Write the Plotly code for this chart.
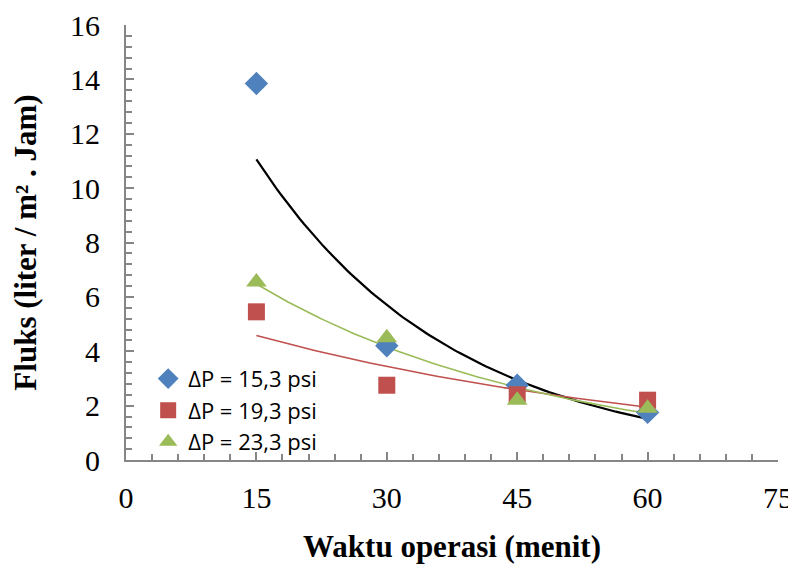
import numpy as np
import plotly.graph_objects as go

waktu = [15, 30, 45, 60]
fluks_153 = [13.85, 4.2, 2.75, 1.75]
fluks_193 = [5.45, 2.75, 2.4, 2.2]
fluks_233 = [6.55, 4.5, 2.2, 1.9]
names = ["ΔP = 15,3 psi", "ΔP = 19,3 psi", "ΔP = 23,3 psi"]

colors = ["#4F81BD", "#C0504D", "#9BBB59"]
trend_colors = ["#000000", "#C0504D", "#9BBB59"]
trend_widths = [2.2, 1.6, 1.6]
symbols = ["diamond", "square", "triangle-up"]
sizes = [18, 17, 18]

fig = go.Figure()
xs = np.array(waktu, dtype=float)
xfit = np.linspace(min(waktu), max(waktu), 100)
for ys, tc, tw in zip([fluks_153, fluks_193, fluks_233], trend_colors, trend_widths):
    b, lna = np.polyfit(xs, np.log(ys), 1)
    fig.add_trace(go.Scatter(x=xfit, y=np.exp(lna + b * xfit), mode="lines",
                             line=dict(color=tc, width=tw), showlegend=False,
                             hoverinfo="skip"))
for ys, n, c, s, sz in zip([fluks_153, fluks_193, fluks_233], names, colors, symbols, sizes):
    fig.add_trace(go.Scatter(x=waktu, y=ys, mode="markers", name=n,
                             marker=dict(symbol=s, color=c, size=sz, line=dict(width=0))))

axis_common = dict(showline=True, linecolor="#868686", linewidth=2, ticks="inside",
                   tickcolor="#868686", tickwidth=2, ticklen=8, showgrid=False, zeroline=False,
                   automargin=False,
                   tickfont=dict(family="Liberation Serif", size=30, color="black"),
                   title_font=dict(family="Liberation Serif", size=31, color="black"))
fig.update_xaxes(range=[0, 75], tickvals=[0, 15, 30, 45, 60, 75], ticklabelstandoff=10,
                 minor=dict(dtick=3, ticks="inside", ticklen=6, tickcolor="#868686", tickwidth=1.5),
                 title_text="<b>Waktu operasi (menit)</b>", title_standoff=22, **axis_common)
fig.update_yaxes(range=[0, 16], dtick=2, ticklabelstandoff=18,
                 minor=dict(dtick=0.4, ticks="inside", ticklen=6, tickcolor="#868686", tickwidth=1.5),
                 title_text="<b>Fluks (liter / m² . Jam)</b>", title_standoff=25, **axis_common)
fig.update_layout(
    width=788, height=559, plot_bgcolor="white", paper_bgcolor="white",
    margin=dict(l=118, r=18, t=17, b=107),
    legend=dict(x=0.034, y=0.235, xanchor="left", yanchor="top", bgcolor="rgba(0,0,0,0)",
                font=dict(family="Open Sans", size=22, color="black"),
                itemsizing="trace", tracegroupgap=0),
)
fig.write_html("out.html")
